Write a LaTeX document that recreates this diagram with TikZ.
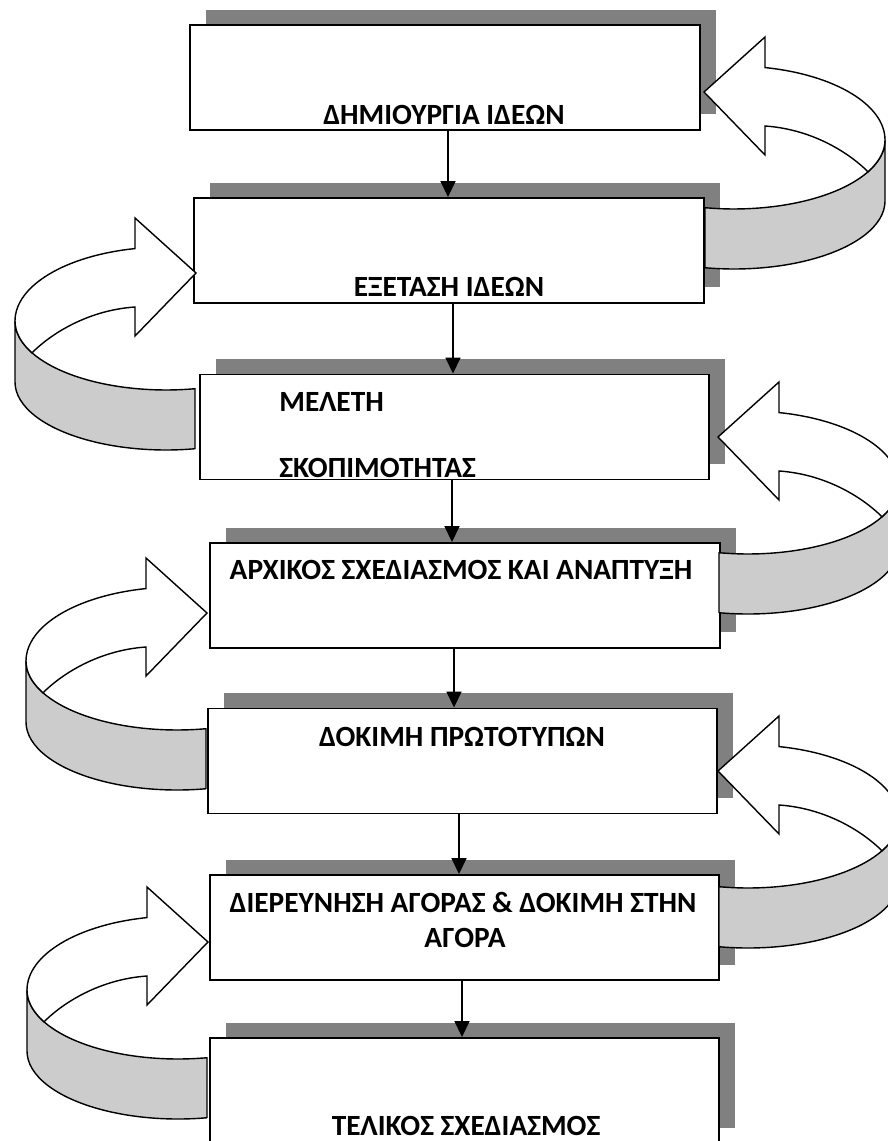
\documentclass[tikz,border=0pt]{standalone}
\usepackage{fontspec}
\setmainfont{Carlito}
\usetikzlibrary{arrows.meta,shadows}

\begin{document}
\begin{tikzpicture}[x=0.02cm, y=-0.02cm,
	box/.style={rectangle, draw=black, line width=1.1pt, fill=white, minimum width=10.2cm, minimum height=2.1cm, inner sep=0pt, drop shadow={shadow xshift=0.32cm, shadow yshift=0.31cm, fill=black!50, opacity=1}},
	lbl/.style={font=\bfseries\fontsize{16.7}{20}\selectfont, inner sep=0pt, anchor=base},
	flow/.style={line width=1pt, -{Triangle[width=0.3cm, length=0.32cm]}},
	ribbon/.style={fill=black!20, draw=black, line width=0.8pt, line join=round},
	face/.style={fill=white, draw=black, line width=0.8pt},
	uturn/.pic={
		\path[ribbon] (1,111.7) arc[start angle=101.07, end angle=0, x radius=151, y radius=69] -- (181,105) arc[start angle=0, end angle=101.07, x radius=151, y radius=68] -- cycle;
		\path[face] (0,-4) -- (61,-59) -- (61,-28.42) arc[start angle=-78.15, end angle=0, x radius=151, y radius=74] arc[start angle=0, end angle=27.44, x radius=151, y radius=69] .. controls (142,54) and (105,33) .. (61,30) -- (61,59) -- cycle;
	}]
	\useasboundingbox (0,0) rectangle (887,1141);

	\node[box] (b1) at (445,77.5) {};
	\node[box] (b2) at (449,250.5) {};
	\node[box] (b3) at (454.5,427) {};
	\node[box] (b4) at (465,595.5) {};
	\node[box] (b5) at (462.5,761) {};
	\node[box] (b6) at (464.5,927.5) {};
	\node[box] (b7) at (464.5,1090.5) {};

	\node[lbl] (t1) at (444,125) {ΔΗΜΙΟΥΡΓΙΑ ΙΔΕΩΝ};
	\node[lbl] (t2) at (449,297) {ΕΞΕΤΑΣΗ ΙΔΕΩΝ};
	\node[lbl, anchor=base west] (t3a) at (279,412) {ΜΕΛΕΤΗ};
	\node[lbl, anchor=base west] (t3b) at (279,477) {ΣΚΟΠΙΜΟΤΗΤΑΣ};
	\node[lbl] (t4) at (461,579) {ΑΡΧΙΚΟΣ ΣΧΕΔΙΑΣΜΟΣ ΚΑΙ ΑΝΑΠΤΥΞΗ};
	\node[lbl] (t5) at (462,746) {ΔΟΚΙΜΗ ΠΡΩΤΟΤΥΠΩΝ};
	\node[lbl] (t6a) at (463,912) {ΔΙΕΡΕΥΝΗΣΗ ΑΓΟΡΑΣ \& ΔΟΚΙΜΗ ΣΤΗΝ};
	\node[lbl] (t6b) at (465,947) {ΑΓΟΡΑ};
	\node[lbl] (t7) at (466,1135) {ΤΕΛΙΚΟΣ ΣΧΕΔΙΑΣΜΟΣ};

	\pic (r1) at (704,96) {uturn};
	\pic (r2) at (718,441) {uturn};
	\pic (r3) at (718,775) {uturn};
	\pic[xscale=-1] (l1) at (196,277) {uturn};
	\pic[xscale=-1] (l2) at (207,617) {uturn};
	\pic[xscale=-1] (l3) at (208,946) {uturn};

	\draw[flow] ([xshift=0.06cm]b1.south) -- ([xshift=0.06cm]b1.south |- b2.north);
	\draw[flow] ([xshift=0.08cm]b2.south) -- ([xshift=0.08cm]b2.south |- b3.north);
	\draw[flow] ([xshift=-0.05cm]b3.south) -- ([xshift=-0.05cm]b3.south |- b4.north);
	\draw[flow] ([xshift=-0.22cm]b4.south) -- ([xshift=-0.22cm]b4.south |- b5.north);
	\draw[flow] ([xshift=-0.07cm]b5.south) -- ([xshift=-0.07cm]b5.south |- b6.north);
	\draw[flow] ([xshift=-0.05cm]b6.south) -- ([xshift=-0.05cm]b6.south |- b7.north);
\end{tikzpicture}
\end{document}
